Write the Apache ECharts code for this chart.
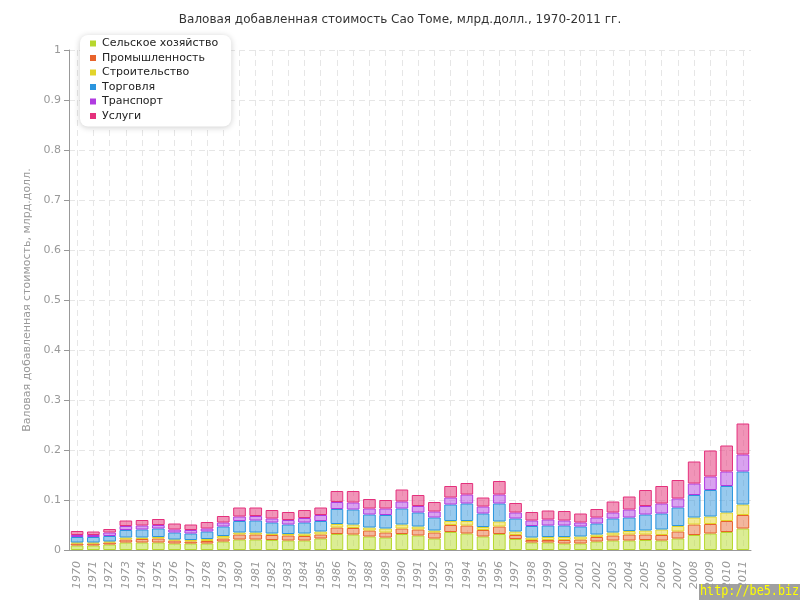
<!DOCTYPE html>
<html><head><meta charset="utf-8">
<script src="https://cdn.jsdelivr.net/npm/echarts@6/dist/echarts.min.js"></script>
<style>html,body{margin:0;padding:0;background:#fff}#c{width:800px;height:600px}</style>
</head><body><div id="c"></div>
<script>
const years = ['1970','1971','1972','1973','1974','1975','1976','1977','1978','1979','1980','1981','1982','1983','1984','1985','1986','1987','1988','1989','1990','1991','1992','1993','1994','1995','1996','1997','1998','1999','2000','2001','2002','2003','2004','2005','2006','2007','2008','2009','2010','2011'];
const seriesNames = ['Сельское хозяйство','Промышленность','Строительство','Торговля','Транспорт','Услуги'];
const agriculture = [0.009,0.009,0.011,0.015,0.015,0.015,0.013,0.013,0.013,0.017,0.021,0.021,0.020,0.019,0.019,0.023,0.032,0.031,0.027,0.025,0.032,0.029,0.023,0.036,0.033,0.027,0.032,0.022,0.015,0.015,0.013,0.013,0.017,0.019,0.019,0.020,0.019,0.023,0.030,0.033,0.036,0.043];
const industry = [0.004,0.004,0.004,0.006,0.007,0.008,0.006,0.004,0.005,0.006,0.010,0.010,0.010,0.010,0.009,0.008,0.013,0.013,0.012,0.010,0.011,0.012,0.012,0.014,0.016,0.013,0.015,0.008,0.005,0.005,0.007,0.008,0.009,0.010,0.012,0.011,0.011,0.014,0.021,0.019,0.022,0.027];
const construction = [0.002,0.002,0.002,0.004,0.003,0.003,0.002,0.003,0.004,0.005,0.004,0.004,0.003,0.003,0.005,0.006,0.007,0.007,0.006,0.008,0.008,0.006,0.004,0.008,0.009,0.006,0.010,0.007,0.005,0.006,0.006,0.006,0.005,0.006,0.007,0.008,0.011,0.011,0.014,0.015,0.017,0.021];
const trade = [0.011,0.011,0.011,0.015,0.016,0.017,0.014,0.013,0.015,0.019,0.023,0.024,0.022,0.019,0.022,0.021,0.030,0.030,0.026,0.027,0.032,0.028,0.026,0.033,0.035,0.027,0.036,0.026,0.023,0.023,0.023,0.020,0.022,0.028,0.027,0.032,0.032,0.037,0.045,0.053,0.053,0.066];
const transport = [0.004,0.004,0.007,0.008,0.008,0.007,0.006,0.007,0.006,0.008,0.009,0.009,0.008,0.009,0.009,0.012,0.014,0.014,0.012,0.013,0.014,0.013,0.012,0.014,0.018,0.014,0.018,0.012,0.011,0.012,0.010,0.008,0.012,0.012,0.016,0.017,0.020,0.018,0.023,0.027,0.029,0.034];
const services = [0.008,0.007,0.007,0.011,0.011,0.012,0.012,0.011,0.013,0.013,0.018,0.017,0.017,0.016,0.016,0.015,0.022,0.023,0.019,0.017,0.024,0.022,0.019,0.023,0.023,0.018,0.027,0.019,0.017,0.018,0.019,0.018,0.017,0.022,0.026,0.032,0.035,0.037,0.044,0.052,0.052,0.062];
const yTicks = ['0','0.1','0.2','0.3','0.4','0.5','0.6','0.7','0.8','0.9','1'];

const dataSets = [agriculture, industry, construction, trade, transport, services];
const solid = ['#b7d72e','#e8632b','#e2d42a','#2b95de','#b03be0','#e4307c'];
const fills = ['rgba(190,222,60,0.55)','rgba(232,110,60,0.5)','rgba(232,216,60,0.55)','rgba(50,150,222,0.5)','rgba(180,70,225,0.5)','rgba(230,60,125,0.55)'];

const chart = echarts.init(document.getElementById('c'), null, {renderer:'canvas'});
chart.setOption({
  animation:false,
  backgroundColor:'#fff',
  title:{text:'Валовая добавленная стоимость Сао Томе, млрд.долл., 1970-2011 гг.',left:'center',top:9,
    textStyle:{fontFamily:'DejaVu Sans',fontSize:12,fontWeight:'normal',color:'#333'}},
  legend:{orient:'vertical',left:80,top:35,itemWidth:6,itemHeight:6,itemGap:3.5,icon:'rect',
    padding:[3,13,5,10],backgroundColor:'#fff',borderRadius:8,shadowBlur:6,shadowColor:'rgba(0,0,0,0.2)',shadowOffsetY:1,
    textStyle:{fontFamily:'DejaVu Sans',fontSize:11,color:'#222',padding:[0,0,0,1]},
    data:seriesNames.map((n,i)=>({name:n,itemStyle:{color:solid[i],borderWidth:0}}))},
  grid:{left:69,right:49,top:50,bottom:50,containLabel:false},
  xAxis:{type:'category',data:years,boundaryGap:true,
    axisLine:{lineStyle:{color:'#999'}},
    axisTick:{alignWithLabel:true,length:5,lineStyle:{color:'#999'}},
    axisLabel:{rotate:90,color:'#999',fontFamily:'DejaVu Sans',fontSize:11,fontStyle:'italic',interval:0,margin:11},
    splitLine:{show:true,alignWithLabel:true,lineStyle:{color:'#e6e6e6',type:[6,4]}}},
  yAxis:{type:'value',min:0,max:1,interval:0.1,
    name:'Валовая добавленная стоимость, млрд.долл.',nameLocation:'middle',nameGap:28,
    nameTextStyle:{color:'#999',fontFamily:'DejaVu Sans',fontSize:11},
    axisLine:{show:true,lineStyle:{color:'#999'}},
    axisTick:{show:true,length:5,lineStyle:{color:'#999'}},
    axisLabel:{color:'#999',fontFamily:'DejaVu Sans',fontSize:11,margin:8,
      formatter:(v)=>{const i=Math.round(v*10);return yTicks[i]!==undefined?yTicks[i]:'';}},
    splitLine:{lineStyle:{color:'#e6e6e6',type:[6,4]}}},
  series:dataSets.map((d,i)=>({name:seriesNames[i],type:'bar',stack:'total',data:d,barCategoryGap:'22%',
    itemStyle:{color:fills[i],borderColor:solid[i],borderWidth:1}})),
  graphic:[
    {type:'rect',left:699,top:584,shape:{width:101,height:16},style:{fill:'#a0a0a0'}},
    {type:'text',x:700,y:584,scaleX:0.84,style:{text:'http://be5.biz/',fill:'#ffff00',font:'14px "DejaVu Sans Mono"'}}
  ]
});
</script></body></html>
